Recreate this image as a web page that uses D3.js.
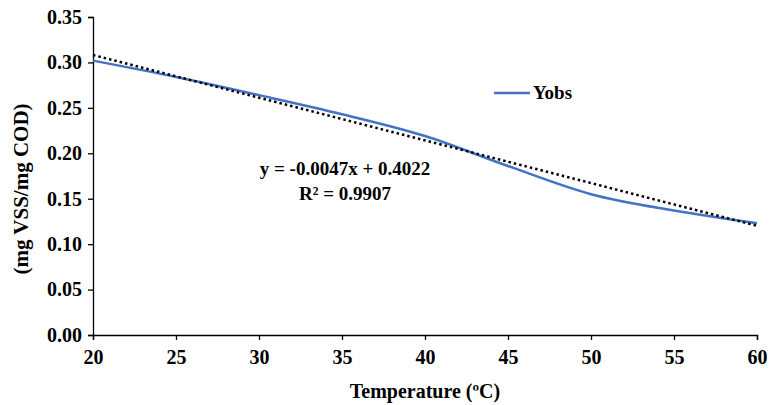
<!doctype html>
<head>
  <meta charset="utf-8">
  <title>Yobs vs Temperature</title>
  <script src="https://d3js.org/d3.v7.min.js"></script>
</head>
<style>
  body { margin: 0; background: #fff; }
  .axis path, .axis line { stroke: #000; stroke-width: 1.3px; }
</style>
<body>
<div id="vis-canvas"></div>
<script>
  // data
  var temps = [20, 25, 30, 35, 40, 45, 50, 55, 60];
  var yobs = [0.302, 0.284, 0.264, 0.243, 0.219, 0.186, 0.155, 0.137, 0.123];
  var xTicks = [20, 25, 30, 35, 40, 45, 50, 55, 60];
  var yTicks = [0, 0.05, 0.10, 0.15, 0.20, 0.25, 0.30, 0.35];
  // linear trendline, from the equation shown on the chart
  var trendSlope = -0.0047, trendIntercept = 0.4022;

  var serif = "Liberation Serif, Tinos, DejaVu Serif, Noto Serif, Times, serif";

  var margin = {top: 17, right: 12, bottom: 70, left: 93},
      width = 769 - margin.left - margin.right,
      height = 405 - margin.top - margin.bottom;

  var svg = d3.select("#vis-canvas").append("svg")
      .attr("width", 769)
      .attr("height", 405)
    .append("g")
      .attr("transform", "translate(" + margin.left + "," + margin.top + ")");

  var x = d3.scaleLinear().domain([20, 60]).range([0, width]);
  var y = d3.scaleLinear().domain([0, 0.35]).range([height, 0]);

  // axes
  var xAxis = svg.append("g")
      .attr("class", "axis")
      .attr("transform", "translate(0," + height + ")")
      .call(d3.axisBottom(x).tickValues(xTicks).tickSize(5).tickSizeOuter(5).tickPadding(10).tickFormat(d3.format("d")));

  var yAxis = svg.append("g")
      .attr("class", "axis")
      .call(d3.axisLeft(y).tickValues(yTicks).tickSize(5).tickSizeOuter(5).tickPadding(6).tickFormat(d3.format(".2f")));

  [xAxis, yAxis].forEach(function(g) {
    g.attr("font-family", null).attr("font-size", null);
    g.selectAll("text")
      .style("font-family", serif)
      .style("font-size", "20px")
      .style("font-weight", "bold")
      .attr("fill", "#000");
  });

  // observed line (smoothed)
  var obs = temps.map(function(t, i) { return {t: t, v: yobs[i]}; });
  var line = d3.line()
      .x(function(d) { return x(d.t); })
      .y(function(d) { return y(d.v); })
      .curve(d3.curveCatmullRom.alpha(0.5));

  svg.append("path")
      .datum(obs)
      .attr("fill", "none")
      .attr("stroke", "#4472C4")
      .attr("stroke-width", 2.5)
      .attr("d", line);

  // trendline
  var ends = d3.extent(temps).map(function(t) { return {t: t, v: trendSlope * t + trendIntercept}; });
  svg.append("path")
      .datum(ends)
      .attr("fill", "none")
      .attr("stroke", "#000")
      .attr("stroke-width", 2.5)
      .attr("stroke-dasharray", "2.5,3")
      .attr("d", d3.line().x(function(d) { return x(d.t); }).y(function(d) { return y(d.v); }));

  function label(px, py, size, txt, anchor) {
    return svg.append("text")
      .attr("x", px).attr("y", py)
      .attr("text-anchor", anchor || "middle")
      .style("font-family", serif)
      .style("font-weight", "bold")
      .style("font-size", size + "px")
      .attr("fill", "#000")
      .text(txt);
  }

  // equation
  label(252, 158, 19, "y = -0.0047x + 0.4022");
  label(252, 183, 19, "R² = 0.9907");

  // legend
  svg.append("line")
      .attr("x1", 401).attr("x2", 437)
      .attr("y1", 76).attr("y2", 76)
      .attr("stroke", "#4472C4")
      .attr("stroke-width", 2.5);
  label(440, 82, 19, "Yobs", "start");

  // axis titles
  label(width / 2, height + 63, 20, "Temperature (ºC)");

  label(0, 0, 21, "(mg VSS/mg COD)")
      .attr("transform", "translate(" + (28 - margin.left) + ",172) rotate(-90)");
</script>
</body>
